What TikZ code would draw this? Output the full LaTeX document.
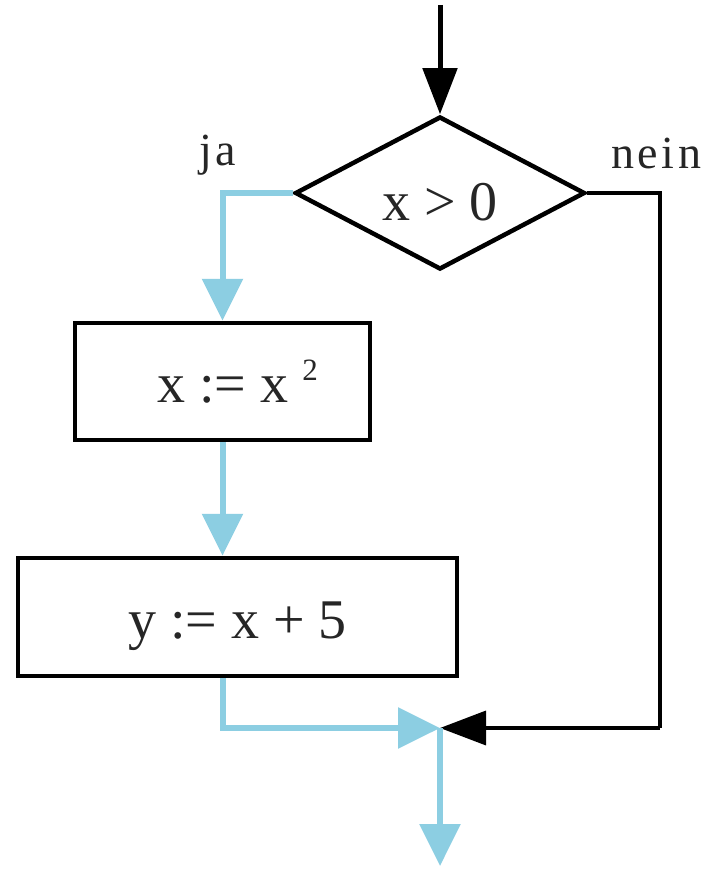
\documentclass[tikz,border=0pt]{standalone}
\usepackage{fontspec}
\setmainfont{Liberation Serif}
\newfontfamily\lblfont[LetterSpace=8]{Liberation Serif}
\usetikzlibrary{shapes.geometric,arrows.meta}
\definecolor{flowblue}{RGB}{140,206,226}
\begin{document}
\begin{tikzpicture}[x=1pt,y=-1pt,
  bigtext/.style={font=\fontsize{56}{60}\selectfont,text=black!85},
  lbltext/.style={font=\lblfont\fontsize{46}{50}\selectfont,text=black!85},
  blueflow/.style={draw=flowblue,line width=6pt},
  bluetip/.style={-{Triangle[length=42pt,width=40pt]}},
  blackflow/.style={draw=black,line width=3.5pt},
  blacktip/.style={-{Triangle[length=46pt,width=34pt]}},
  procbox/.style={draw=black,line width=4.5pt,rectangle,inner sep=0pt,text height=42pt,text depth=0pt,bigtext},
  decision/.style={draw=black,line width=4.5pt,diamond,aspect=1.9,inner sep=0pt,text height=54pt,text depth=0pt,bigtext}
]
\useasboundingbox (0,0) rectangle (704,869);
\fill[white] (0,0) rectangle (704,869);

\coordinate (start) at (440,5);
\node[decision,minimum width=290pt,minimum height=153pt] (dia) at (440,193) {x > 0};
\node[procbox,minimum width=295pt,minimum height=117pt] (box1) at (222.5,381.5) {\hspace*{30pt}x := x \raisebox{22pt}{\fontsize{31}{31}\selectfont 2}};
\node[procbox,minimum width=439pt,minimum height=118pt] (box2) at (237.5,617) {y := x + 5};
\coordinate (merge) at (440,728);
\coordinate (rcorner) at (660,728);
\coordinate (finish) at (440,866);

\node[lbltext,anchor=base west,inner sep=0pt] (ja) at (199,165) {ja};
\node[lbltext,anchor=base west,inner sep=0pt] (nein) at (611,168) {nein};

% entry
\draw[blackflow,line width=5pt,blacktip] (start) -- (dia.north);
% yes branch
\draw[blueflow,bluetip] (dia.west) -| (box1.north);
\draw[blueflow,bluetip] (box1.south) -- (box1.south |- box2.north);
\draw[blueflow,bluetip] (box1.south |- box2.south) |- (merge);
% no branch
\draw[blackflow] (dia.east) -| (rcorner);
\draw[blackflow,blacktip] (rcorner) -- (merge);
% exit
\draw[blueflow,bluetip] (merge) -- (finish);
\end{tikzpicture}
\end{document}
